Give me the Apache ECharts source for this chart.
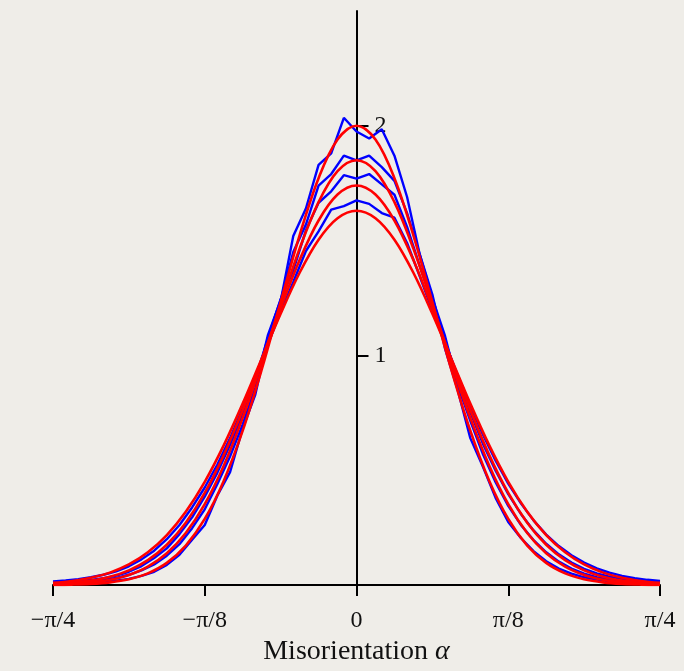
<!DOCTYPE html>
<html>
<head>
<meta charset="utf-8">
<script src="https://cdn.jsdelivr.net/npm/echarts@6/dist/echarts.min.js"></script>
<style>
  html, body { margin: 0; padding: 0; background: #efede8; overflow: hidden; }
  #chart { width: 684px; height: 671px; }
</style>
</head>
<body>
<div id="chart"></div>
<script>
// Tick labels
const xTickLabels = ['\u2212\u03c0/4', '\u2212\u03c0/8', '0', '\u03c0/8', '\u03c0/4'];
const yTickValues = [1, 2];
const yTickLabels = ['1', '2'];

// Sample positions (radians)
const xFit = [-0.78540,-0.73631,-0.68722,-0.63814,-0.58905,-0.53996,-0.49087,-0.44179,-0.39270,-0.34361,-0.29452,-0.24544,-0.19635,-0.14726,-0.09817,-0.04909,0,
  0.04909,0.09817,0.14726,0.19635,0.24544,0.29452,0.34361,0.39270,0.44179,0.49087,0.53996,0.58905,0.63814,0.68722,0.73631,0.78540];
const xData = [-0.78540,-0.75267,-0.71995,-0.68722,-0.65450,-0.62178,-0.58905,-0.55633,-0.52360,-0.49087,-0.45815,-0.42542,-0.39270,-0.35997,-0.32725,-0.29452,-0.26180,-0.22907,-0.19635,-0.16362,-0.13090,-0.09817,-0.06545,-0.03272,0,
  0.03272,0.06545,0.09817,0.13090,0.16362,0.19635,0.22907,0.26180,0.29452,0.32725,0.35997,0.39270,0.42542,0.45815,0.49087,0.52360,0.55633,0.58905,0.62178,0.65450,0.68722,0.71995,0.75267,0.78540];

// Measured (blue) curves
const data1 = [0.006,0.007,0.009,0.011,0.014,0.019,0.027,0.040,0.058,0.088,0.132,0.198,0.262,0.390,0.492,0.682,0.830,1.075,1.235,1.520,1.640,1.830,1.880,2.035,1.975,
  1.945,1.985,1.870,1.690,1.440,1.265,1.030,0.850,0.640,0.515,0.380,0.275,0.205,0.148,0.104,0.072,0.050,0.034,0.024,0.017,0.013,0.010,0.008,0.006];
const data2 = [0.008,0.010,0.013,0.017,0.022,0.031,0.045,0.064,0.090,0.128,0.178,0.248,0.330,0.440,0.560,0.700,0.860,1.090,1.240,1.450,1.570,1.740,1.790,1.870,1.850,
  1.870,1.820,1.760,1.620,1.440,1.250,1.085,0.870,0.715,0.570,0.448,0.345,0.262,0.196,0.143,0.102,0.072,0.050,0.035,0.025,0.018,0.013,0.010,0.008];
const data3 = [0.011,0.013,0.017,0.022,0.030,0.041,0.058,0.083,0.118,0.160,0.222,0.295,0.385,0.490,0.610,0.745,0.900,1.075,1.245,1.370,1.545,1.665,1.715,1.785,1.770,
  1.790,1.745,1.700,1.560,1.390,1.230,1.065,0.905,0.752,0.615,0.498,0.396,0.310,0.238,0.180,0.134,0.098,0.071,0.051,0.037,0.027,0.020,0.015,0.012];
const data4 = [0.016,0.020,0.026,0.034,0.045,0.060,0.082,0.112,0.150,0.200,0.262,0.338,0.425,0.525,0.640,0.770,0.905,1.050,1.190,1.320,1.455,1.540,1.635,1.650,1.675,
  1.660,1.620,1.600,1.490,1.345,1.195,1.055,0.915,0.780,0.655,0.542,0.442,0.356,0.282,0.220,0.170,0.130,0.098,0.073,0.054,0.040,0.030,0.023,0.018];

// Fitted (red) curves
const fit1 = [0.0009,0.0022,0.0053,0.0120,0.0255,0.0513,0.0968,0.1721,0.2880,0.4536,0.6724,0.9382,1.2321,1.5229,1.7719,1.9404,2.0000,
  1.9404,1.7719,1.5229,1.2321,0.9382,0.6724,0.4536,0.2880,0.1721,0.0968,0.0513,0.0255,0.0120,0.0053,0.0022,0.0009];
const fit2 = [0.0024,0.0054,0.0115,0.0232,0.0443,0.0805,0.1387,0.2269,0.3524,0.5198,0.7280,0.9680,1.2222,1.4653,1.6679,1.8027,1.8500,
  1.8027,1.6679,1.4653,1.2222,0.9680,0.7280,0.5198,0.3524,0.2269,0.1387,0.0805,0.0443,0.0232,0.0115,0.0054,0.0024];
const fit3 = [0.0049,0.0100,0.0195,0.0362,0.0642,0.1087,0.1758,0.2719,0.4014,0.5661,0.7625,0.9811,1.2058,1.4157,1.5876,1.7006,1.7400,
  1.7006,1.5876,1.4157,1.2058,0.9811,0.7625,0.5661,0.4014,0.2719,0.1758,0.1087,0.0642,0.0362,0.0195,0.0100,0.0049];
const fit4 = [0.0095,0.0177,0.0316,0.0544,0.0900,0.1430,0.2181,0.3197,0.4499,0.6083,0.7902,0.9859,1.1815,1.3601,1.5040,1.5975,1.6300,
  1.5975,1.5040,1.3601,1.1815,0.9859,0.7902,0.6083,0.4499,0.3197,0.2181,0.1430,0.0900,0.0544,0.0316,0.0177,0.0095];

const measured = [data1, data2, data3, data4];
const fitted = [fit1, fit2, fit3, fit4];

function pairs(xs, ys) { return xs.map((x, i) => [x, ys[i]]); }

const series = [];
measured.forEach(d => series.push({
  type: 'line', data: pairs(xData, d), showSymbol: false, smooth: false,
  lineStyle: { color: '#0000ff', width: 2.4 }, z: 2, silent: true
}));
fitted.forEach(d => series.push({
  type: 'line', data: pairs(xFit, d), showSymbol: false, smooth: 0.35,
  lineStyle: { color: '#ff0000', width: 2.6 }, z: 3, silent: true
}));

const GRID_LEFT = 53, GRID_RIGHT = 24;
const chartW = 684;
const plotW = chartW - GRID_LEFT - GRID_RIGHT;

const chart = echarts.init(document.getElementById('chart'));
chart.setOption({
  backgroundColor: '#efede8',
  animation: false,
  grid: { left: GRID_LEFT, right: GRID_RIGHT, top: 11, bottom: 81, containLabel: false },
  xAxis: {
    type: 'value',
    min: -Math.PI / 4, max: Math.PI / 4, interval: Math.PI / 8,
    splitLine: { show: false },
    axisLine: { onZero: false, lineStyle: { color: '#000', width: 2 } },
    axisTick: { show: true, length: 11, lineStyle: { color: '#000', width: 2 } },
    axisLabel: {
      margin: 24, color: '#111', fontFamily: 'Liberation Serif', fontSize: 24,
      showMinLabel: true, showMaxLabel: true,
      formatter: (v, i) => xTickLabels[i]
    },
    name: 'Misorientation {i|\u03b1}',
    nameLocation: 'middle', nameGap: 41,
    nameTextStyle: {
      color: '#111', fontFamily: 'Liberation Serif', fontSize: 28,
      rich: { i: { fontFamily: 'Liberation Serif', fontStyle: 'italic', fontSize: 28, color: '#111' } }
    }
  },
  yAxis: {
    type: 'value', min: 0, max: 2.5,
    position: 'left',
    offset: -plotW / 2,
    splitLine: { show: false },
    axisLine: { onZero: false, lineStyle: { color: '#000', width: 2 } },
    axisTick: { show: true, inside: true, length: 12, customValues: yTickValues, lineStyle: { color: '#000', width: 2 } },
    axisLabel: {
      inside: true, margin: 18, color: '#111', fontFamily: 'Liberation Serif', fontSize: 24,
      customValues: yTickValues,
      formatter: (v) => yTickLabels[yTickValues.indexOf(v)] || ''
    }
  },
  series: series
});
</script>
</body>
</html>
